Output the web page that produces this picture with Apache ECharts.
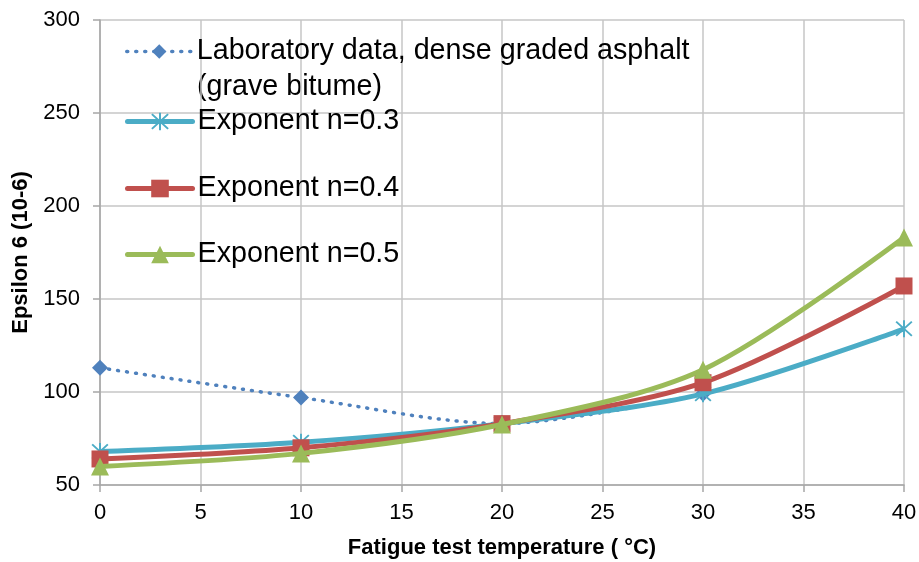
<!DOCTYPE html>
<html>
<head>
<meta charset="utf-8">
<script src="https://cdn.jsdelivr.net/npm/echarts@6/dist/echarts.min.js"></script>
<style>
  html, body { margin: 0; padding: 0; background: #ffffff; }
  #chart { width: 919px; height: 562px; }
</style>
</head>
<body>
<div id="chart"></div>
<script>
// Fatigue test temperatures (°C)
const temps = [0, 10, 20, 30, 40];
const labTemps = [0, 10, 20, 30];

// Epsilon 6 values (10-6)
const labData = [113, 97, 83, 99];
const expN03 = [68, 73, 83, 99, 134];
const expN04 = [64, 70, 83, 105, 157];
const expN05 = [60, 67, 82.5, 112, 183];

const seriesNames = [
  'Laboratory data, dense graded asphalt',
  'Exponent n=0.3',
  'Exponent n=0.4',
  'Exponent n=0.5'
];
const labSecondLine = '(grave bitume)';

const xTicks = { min: 0, max: 40, interval: 5 };
const yTicks = { min: 50, max: 300, interval: 50 };

const FONT = '"Liberation Sans", Arial, sans-serif';
const LEGEND_FONT_SIZE = 28.7;
const starPath = 'path://M4.5,0 L5.5,0 L5.5,10 L4.5,10 Z M0.5,1.2 L1.2,0.5 L9.5,8.8 L8.8,9.5 Z M8.8,0.5 L9.5,1.2 L1.2,9.5 L0.5,8.8 Z';

function pairs(xs, ys) {
  return xs.map((x, i) => [x, ys[i]]);
}

const chart = echarts.init(document.getElementById('chart'), null, { renderer: 'canvas' });

// One legend block per series so each row can sit at its own height
function legendAt(name, top, iconHeight, lineWidth) {
  return {
    data: [name],
    left: 125,
    top: top,
    itemWidth: 65,
    itemHeight: iconHeight,
    padding: 0,
    selectedMode: false,
    lineStyle: { width: lineWidth, cap: 'round' },
    textStyle: { fontFamily: FONT, fontSize: LEGEND_FONT_SIZE, color: '#000000' }
  };
}

const option = {
  backgroundColor: '#ffffff',
  animation: false,
  grid: { left: 100, right: 15, top: 20, bottom: 77, containLabel: false, outerBoundsMode: 'none' },
  legend: [
    legendAt(seriesNames[0], 37, 18, 3.5),
    legendAt(seriesNames[1], 107, 22, 5),
    legendAt(seriesNames[2], 174, 22, 5),
    legendAt(seriesNames[3], 240, 22, 5)
  ],
  graphic: [{
    type: 'text',
    left: 197,
    top: 73,
    style: { text: labSecondLine, font: LEGEND_FONT_SIZE + 'px ' + FONT, fill: '#000000' }
  }],
  xAxis: {
    type: 'value',
    min: xTicks.min, max: xTicks.max, interval: xTicks.interval,
    name: 'Fatigue test temperature ( °C)',
    nameLocation: 'middle',
    nameGap: 52,
    nameTextStyle: { fontFamily: FONT, fontSize: 22, fontWeight: 'bold', color: '#000000' },
    axisLine: { show: true, lineStyle: { color: '#a6a6a6', width: 1.5 } },
    axisTick: { show: true, length: 7, inside: false, lineStyle: { color: '#a6a6a6', width: 1.5 } },
    axisLabel: { fontFamily: FONT, fontSize: 22, color: '#000000', margin: 17 },
    splitLine: { show: true, lineStyle: { color: '#c6c6c6', width: 1.5 } }
  },
  yAxis: {
    type: 'value',
    min: yTicks.min, max: yTicks.max, interval: yTicks.interval,
    name: 'Epsilon 6 (10-6)',
    nameLocation: 'middle',
    nameGap: 65,
    nameTextStyle: { fontFamily: FONT, fontSize: 22, fontWeight: 'bold', color: '#000000' },
    axisLine: { show: true, lineStyle: { color: '#a6a6a6', width: 1.5 } },
    axisTick: { show: true, length: 7, inside: false, lineStyle: { color: '#a6a6a6', width: 1.5 } },
    axisLabel: { fontFamily: FONT, fontSize: 22, color: '#000000', margin: 20 },
    splitLine: { show: true, lineStyle: { color: '#c6c6c6', width: 1.5 } }
  },
  series: [
    {
      name: seriesNames[0],
      type: 'line',
      data: pairs(labTemps, labData),
      smooth: 0.3,
      symbol: 'diamond',
      symbolSize: 16,
      itemStyle: { color: '#4f81bd' },
      lineStyle: { color: '#4f81bd', width: 3.5, type: [1, 8], cap: 'round' },
      z: 2
    },
    {
      name: seriesNames[1],
      type: 'line',
      data: pairs(temps, expN03),
      smooth: 0.3,
      symbol: starPath,
      symbolSize: 17,
      itemStyle: { color: '#4bacc6' },
      lineStyle: { color: '#4bacc6', width: 5 },
      z: 3
    },
    {
      name: seriesNames[2],
      type: 'line',
      data: pairs(temps, expN04),
      smooth: 0.3,
      symbol: 'rect',
      symbolSize: 17,
      itemStyle: { color: '#c0504d' },
      lineStyle: { color: '#c0504d', width: 5 },
      z: 4
    },
    {
      name: seriesNames[3],
      type: 'line',
      data: pairs(temps, expN05),
      smooth: 0.3,
      symbol: 'triangle',
      symbolSize: 18,
      itemStyle: { color: '#9bbb59' },
      lineStyle: { color: '#9bbb59', width: 5 },
      z: 5
    }
  ]
};

chart.setOption(option);
</script>
</body>
</html>
